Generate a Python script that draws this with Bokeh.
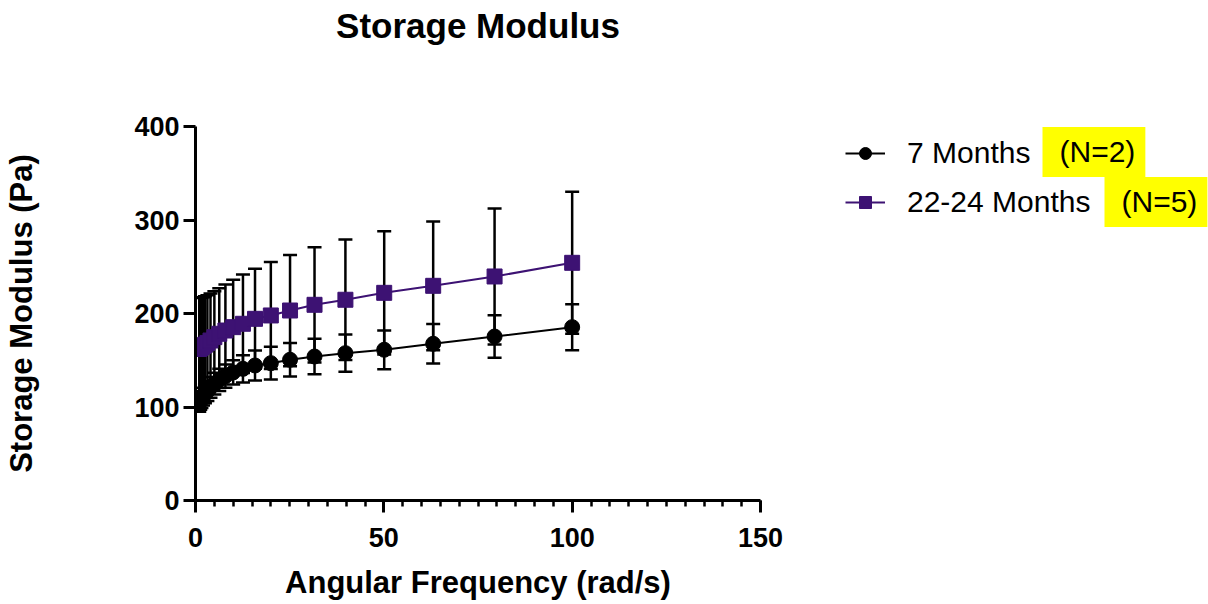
from bokeh.plotting import figure
from bokeh.layouts import row
from bokeh.models import (Range1d, FixedTicker, Legend, LegendItem, Label,
                          ColumnDataSource, LinearAxis)
from bokeh.embed import file_html
from bokeh.resources import INLINE

# Angular frequency sweep (rad/s)
freq = [1.0, 1.26, 1.58, 2.0, 2.51, 3.16, 3.98, 5.01, 6.31, 7.94, 10.0,
        12.6, 15.8, 20.0, 25.1, 31.6, 39.8, 50.1, 63.1, 79.4, 100.0]

# 7 months group: mean and SD of storage modulus (Pa)
young_mean = [104, 106, 108, 111, 114, 117, 121, 125, 129, 133, 137,
              140.8, 144.4, 146.9, 150.5, 154, 157.6, 161.2, 167.6, 175.4, 185.4]
young_sd = [9, 9, 9, 9.5, 10, 10.5, 11, 11.5, 12, 12.5, 13,
            14.6, 16, 17.5, 18, 19, 20, 20.7, 21.2, 22.8, 24.6]

# 22-24 months group
old_mean = [162, 163, 164, 165, 166.5, 168.5, 171.1, 174.7, 178.3, 181.8, 185.4,
            189, 194.3, 197.9, 203.2, 209.3, 214.7, 222.1, 229.6, 239.6, 254.2]
old_sd = [54.5, 53.8, 53, 52.5, 52, 51, 50.4, 49.2, 48.7, 49.2, 50.6,
          52.7, 53.5, 57.3, 59.5, 61.6, 64.4, 65.9, 68.8, 72.7, 75.9]

series_labels = ["7 Months", "22-24 Months"]
n_labels = ["(N=2)", "(N=5)"]

x_ticks = [0, 50, 100, 150]
x_minor = list(range(0, 151, 5))
y_ticks = [0, 100, 200, 300, 400]

PURPLE = "#3D1273"
FONT = "Liberation Sans"

p = figure(width=800, height=604, output_backend="svg", toolbar_location=None,
           x_range=Range1d(0, 150), y_range=Range1d(0, 400),
           min_border_left=195, min_border_right=40,
           min_border_top=126, min_border_bottom=104,
           background_fill_color="white", border_fill_color="white")
xax = p.below[0]
yax = p.left[0]

p.xgrid.visible = False
p.ygrid.visible = False
p.outline_line_color = None

# blank axis above the frame: pushes the title up to the top of the page
spacer = LinearAxis(ticker=FixedTicker(ticks=[0], minor_ticks=[]),
                    major_label_overrides={0: ""},
                    axis_line_color=None,
                    major_tick_line_color=None, minor_tick_line_color=None,
                    major_tick_out=80, major_tick_in=0, minor_tick_out=0,
                    major_label_standoff=0, major_label_text_font_size="1px")
p.add_layout(spacer, "above")

p.title.text = "Storage Modulus"
p.title.align = "center"
p.title.vertical_align = "bottom"
p.title.standoff = 4
p.title.text_font = FONT
p.title.text_font_style = "bold"
p.title.text_font_size = "35px"
p.title.text_color = "black"


def make_source(mean, sd):
    return ColumnDataSource(dict(
        x=freq, y=mean,
        lo=[m - s for m, s in zip(mean, sd)],
        hi=[m + s for m, s in zip(mean, sd)],
    ))


src_young = make_source(young_mean, young_sd)
src_old = make_source(old_mean, old_sd)

# error bars (black for both groups)
for src in (src_old, src_young):
    p.segment(x0="x", y0="lo", x1="x", y1="hi", source=src,
              line_color="black", line_width=2.5)
    p.scatter(x="x", y="hi", source=src, marker="dash", size=14,
              line_color="black", line_width=2.5)
    p.scatter(x="x", y="lo", source=src, marker="dash", size=14,
              line_color="black", line_width=2.5)

line_style_old = dict(line_color=PURPLE, line_width=2)
line_style_young = dict(line_color="black", line_width=2)
mark_style_old = dict(marker="square", size=15, fill_color=PURPLE, line_color=PURPLE, line_width=1)
mark_style_young = dict(marker="circle", size=15, fill_color="black", line_color="black", line_width=1)

p.line(x="x", y="y", source=src_old, **line_style_old)
p.line(x="x", y="y", source=src_young, **line_style_young)
p.scatter(x="x", y="y", source=src_old, **mark_style_old)
p.scatter(x="x", y="y", source=src_young, **mark_style_young)

# axes
xax.ticker = FixedTicker(ticks=x_ticks, minor_ticks=x_minor)
yax.ticker = FixedTicker(ticks=y_ticks, minor_ticks=[])
xax.axis_label = "Angular Frequency (rad/s)"
yax.axis_label = "Storage Modulus (Pa)"
for ax in (xax, yax):
    ax.axis_line_width = 3
    ax.axis_line_color = "black"
    ax.major_tick_line_width = 3
    ax.major_tick_line_color = "black"
    ax.major_tick_in = 0
    ax.major_tick_out = 12
    ax.minor_tick_in = 0
    ax.minor_tick_out = 6
    ax.minor_tick_line_width = 2.5
    ax.minor_tick_line_color = "black"
    ax.major_label_text_font = FONT
    ax.major_label_text_font_style = "bold"
    ax.major_label_text_font_size = "27px"
    ax.major_label_text_color = "black"
    ax.axis_label_text_font = FONT
    ax.axis_label_text_font_style = "bold"
    ax.axis_label_text_font_size = "31px"
    ax.axis_label_text_color = "black"
xax.major_label_standoff = 15
yax.major_label_standoff = 4
xax.axis_label_standoff = 15
yax.axis_label_standoff = 92

# legend panel to the right of the plot (its frame lines up with the plot frame);
# the key renderers share the series data, which lies outside this panel's ranges
lg = figure(width=408, height=604, output_backend="svg", toolbar_location=None,
            x_range=Range1d(0, 1), y_range=Range1d(0, 1),
            min_border=0, x_axis_location=None, y_axis_location=None,
            background_fill_color="white", border_fill_color="white")
lg.xgrid.visible = False
lg.ygrid.visible = False
lg.outline_line_color = None

key_young = [lg.line(x="x", y="y", source=src_young, **line_style_young),
             lg.scatter(x="x", y="y", source=src_young, **mark_style_young)]
key_old = [lg.line(x="x", y="y", source=src_old, **line_style_old),
           lg.scatter(x="x", y="y", source=src_old, **mark_style_old)]

legend = Legend(items=[
    LegendItem(label=series_labels[0], renderers=key_young),
    LegendItem(label=series_labels[1], renderers=key_old),
], location=(45, 281), orientation="vertical",
    glyph_width=40, glyph_height=30, label_height=30, label_standoff=22,
    spacing=15, padding=0, margin=0,
    border_line_color=None, background_fill_alpha=0,
    label_text_font=FONT, label_text_font_size="30px", label_text_color="black")
lg.add_layout(legend)

# highlighted group sizes next to the legend entries
for txt, sx, sy in [(n_labels[0], 242, 348.5), (n_labels[1], 304, 298.5)]:
    lg.add_layout(Label(x=sx, y=sy, x_units="screen", y_units="screen", text=txt,
                        text_font=FONT, text_font_size="30px", text_color="black",
                        text_baseline="middle", text_align="left",
                        background_fill_color="#FFFF00",
                        padding=dict(left=17, right=10, top=8, bottom=9)))

layout = row(p, lg)
open("out.html", "w").write(file_html(layout, INLINE))
